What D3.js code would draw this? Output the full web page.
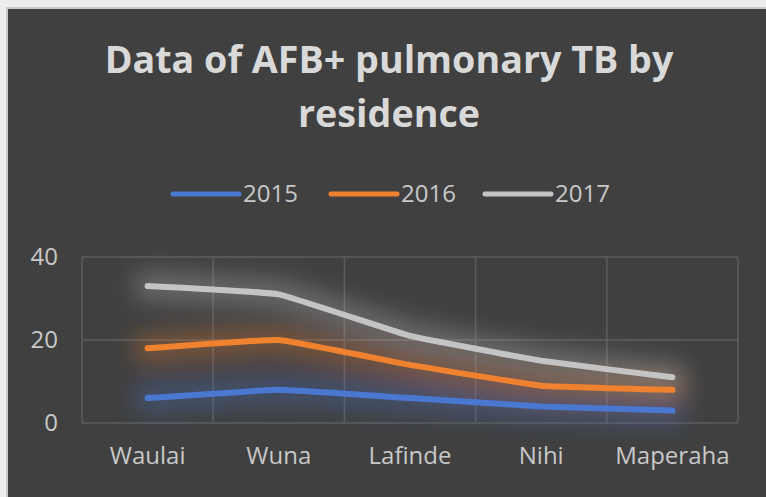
<!DOCTYPE html>
<html>
<head>
<meta charset="utf-8">
<script src="https://cdn.jsdelivr.net/npm/d3@7"></script>
<style>
  html, body { margin: 0; padding: 0; background: #ececec; }
  svg { display: block; }
</style>
</head>
<body>
<svg id="chart"></svg>
<script>
'use strict'

const width = 766
const height = 497

// data
const categories = ['Waulai', 'Wuna', 'Lafinde', 'Nihi', 'Maperaha']
const years = ['2015', '2016', '2017']
const values2015 = [6, 8, 6, 4, 3]
const values2016 = [18, 20, 14, 9, 8]
const values2017 = [33, 31, 21, 15, 11]
const yTicks = [0, 20, 40]

const seriesColors = ['#4a78d0', '#f0822f', '#c4c4c4']
const series = [values2015, values2016, values2017].map((values, i) => ({
  name: years[i],
  color: seriesColors[i],
  values
}))

const margin = { top: 257, right: 28, bottom: 74, left: 82 }
const font = "'Open Sans', 'Noto Sans', sans-serif"

const svg = d3.select('#chart')
  .attr('width', width)
  .attr('height', height)
  .attr('font-family', font)

// page frame + dark chart area
svg.append('rect')
  .attr('x', 0).attr('y', 0)
  .attr('width', width).attr('height', height)
  .attr('fill', '#ededed')
svg.append('rect')
  .attr('x', 7).attr('y', 8)
  .attr('width', width).attr('height', height)
  .attr('fill', '#404040')
  .attr('stroke', '#c9c9c9')
  .attr('stroke-width', 2)

const defs = svg.append('defs')
defs.append('filter')
  .attr('id', 'glow')
  .attr('x', '-20%').attr('y', '-80%')
  .attr('width', '140%').attr('height', '260%')
  .append('feGaussianBlur')
  .attr('stdDeviation', 11)

const x = d3.scaleBand()
  .domain(categories)
  .range([margin.left, width - margin.right])
  .padding(0)

const y = d3.scaleLinear()
  .domain([0, 40])
  .range([height - margin.bottom, margin.top])

const cx = d => x(d) + x.bandwidth() / 2

// gridlines
const grid = svg.append('g').attr('stroke', '#5c5c5c').attr('stroke-width', 1.5)
grid.selectAll('line.h')
  .data(yTicks)
  .enter().append('line')
  .attr('class', 'h')
  .attr('x1', x.range()[0]).attr('x2', x.range()[1])
  .attr('y1', d => y(d)).attr('y2', d => y(d))
grid.selectAll('line.v')
  .data(categories.map(c => x(c)).concat([x.range()[1]]))
  .enter().append('line')
  .attr('class', 'v')
  .attr('x1', d => d).attr('x2', d => d)
  .attr('y1', y(40)).attr('y2', y(0))

// axes
const yAxis = svg.append('g')
  .attr('transform', `translate(${margin.left - 24},0)`)
  .call(d3.axisLeft(y).tickValues(yTicks).tickSize(0).tickPadding(0))
yAxis.select('.domain').remove()
yAxis.selectAll('text')
  .attr('fill', '#c8c8c8')
  .attr('font-size', 24)
  .attr('font-family', font)

const xAxis = svg.append('g')
  .attr('transform', `translate(0,${y(0)})`)
  .call(d3.axisBottom(x).tickSize(0).tickPadding(24))
xAxis.select('.domain').remove()
xAxis.selectAll('text')
  .attr('fill', '#c8c8c8')
  .attr('font-size', 24)
  .attr('font-family', font)

// lines
const line = d3.line()
  .x((d, i) => cx(categories[i]))
  .y(d => y(d))
  .curve(d3.curveCardinal.tension(0.75))

const glowLayer = svg.append('g').attr('filter', 'url(#glow)')
glowLayer.selectAll('path')
  .data(series)
  .enter().append('path')
  .attr('d', d => line(d.values))
  .attr('fill', 'none')
  .attr('stroke', d => d.color)
  .attr('stroke-opacity', 0.3)
  .attr('stroke-width', 30)
  .attr('stroke-linecap', 'round')

svg.append('g').selectAll('path')
  .data(series)
  .enter().append('path')
  .attr('d', d => line(d.values))
  .attr('fill', 'none')
  .attr('stroke', d => d.color)
  .attr('stroke-width', 6)
  .attr('stroke-linecap', 'round')
  .attr('stroke-linejoin', 'round')

// title
const title = svg.append('text')
  .attr('text-anchor', 'middle')
  .attr('fill', '#d9d9d9')
  .attr('font-weight', 'bold')
  .attr('font-size', 36)
title.append('tspan').attr('x', 389).attr('y', 73).text('Data of AFB+ pulmonary TB by')
title.append('tspan').attr('x', 389).attr('y', 127).text('residence')
const firstLine = title.select('tspan').node().getComputedTextLength()
title.attr('font-size', 36 * 569 / firstLine)

// legend
const legendX = [173, 331, 485]
const legend = svg.append('g')
  .selectAll('g')
  .data(series)
  .enter().append('g')
  .attr('transform', (d, i) => `translate(${legendX[i]},194)`)
legend.append('line')
  .attr('x1', 0).attr('x2', 66)
  .attr('stroke', d => d.color)
  .attr('stroke-width', 5)
  .attr('stroke-linecap', 'round')
legend.append('text')
  .attr('x', 70)
  .attr('dy', '0.35em')
  .attr('fill', '#c8c8c8')
  .attr('font-size', 24)
  .text(d => d.name)
</script>
</body>
</html>
